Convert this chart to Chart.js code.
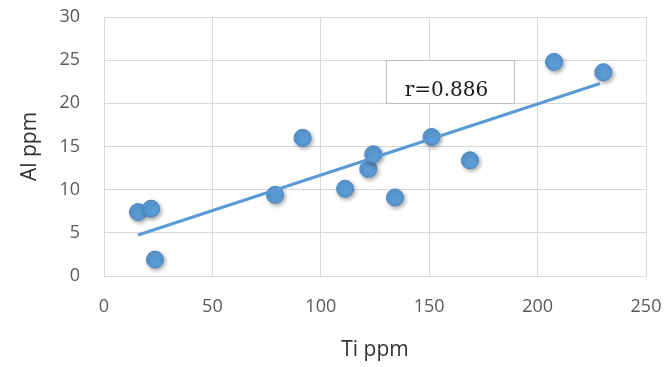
<!DOCTYPE html>
<html><head><meta charset="utf-8">
<script src="https://cdn.jsdelivr.net/npm/chart.js@4.4.1/dist/chart.umd.min.js"></script>
<style>html,body{margin:0;padding:0;background:#fff}#wrap{width:667px;height:367px}</style>
</head><body><div id="wrap"><canvas id="c" width="667" height="367"></canvas></div>
<script>
// ---- data ----
const tiPpm = [15.7, 21.7, 23.5, 78.9, 91.6, 111.2, 121.9, 124.2, 134.2, 151.1, 168.8, 207.6, 230.3];
const alPpm = [7.4, 7.8, 1.9, 9.4, 16.0, 10.1, 12.4, 14.1, 9.1, 16.1, 13.4, 24.8, 23.6];
const trendTi = [15.7, 228.8];
const trendAl = [4.75, 22.3];
const xTicks = [0, 50, 100, 150, 200, 250];
const yTicks = [0, 5, 10, 15, 20, 25, 30];
const xTitle = 'Ti ppm';
const yTitle = 'Al ppm';
const rLabel = 'r=0.886';
const rBoxTi = [130, 189];
const rBoxAl = [20, 25];

const BLUE = '#5B9BD5';
const GRID = '#d9d9d9';

const shadowPlugin = {
  id: 'shadow',
  beforeDatasetDraw(chart, args) {
    const ctx = chart.ctx;
    ctx.save();
    if (args.index === 0) {
      ctx.shadowColor = 'rgba(0,0,0,0.35)';
      ctx.shadowBlur = 4;
      ctx.shadowOffsetX = 1.5;
      ctx.shadowOffsetY = 2;
    }
  },
  afterDatasetDraw(chart) { chart.ctx.restore(); }
};

const rBoxPlugin = {
  id: 'rbox',
  afterDraw(chart) {
    const {ctx, scales: {x, y}} = chart;
    const x0 = Math.round(x.getPixelForValue(rBoxTi[0])) + 0.5;
    const x1 = Math.round(x.getPixelForValue(rBoxTi[1])) + 0.5;
    const y0 = Math.round(y.getPixelForValue(rBoxAl[1])) + 0.5;
    const y1 = Math.round(y.getPixelForValue(rBoxAl[0])) + 0.5;
    ctx.save();
    ctx.fillStyle = '#ffffff';
    ctx.fillRect(x0, y0, x1 - x0, y1 - y0);
    ctx.strokeStyle = '#bfbfbf';
    ctx.lineWidth = 1;
    ctx.strokeRect(x0, y0, x1 - x0, y1 - y0);
    ctx.fillStyle = '#1a1a1a';
    ctx.font = '20px "DejaVu Serif"';
    ctx.textAlign = 'center';
    ctx.textBaseline = 'alphabetic';
    ctx.fillText(rLabel, (x0 + x1) / 2 - 4, y1 - 8);
    ctx.restore();
  }
};

const noPad = s => { s.paddingTop = 0; s.paddingBottom = 0; s.paddingLeft = 0; s.paddingRight = 0; };

new Chart(document.getElementById('c'), {
  type: 'scatter',
  data: {
    datasets: [
      {
        data: tiPpm.map((t, i) => ({x: t, y: alPpm[i]})),
        backgroundColor: BLUE,
        borderColor: '#4a86c4',
        borderWidth: 1,
        pointRadius: 8.5,
        clip: false,
        order: 2
      },
      {
        type: 'line',
        data: trendTi.map((t, i) => ({x: t, y: trendAl[i]})),
        borderColor: BLUE,
        borderWidth: 3,
        pointRadius: 0,
        fill: false,
        order: 1
      }
    ]
  },
  options: {
    responsive: false,
    animation: false,
    layout: {autoPadding: false, padding: {left: 0, right: 21, top: 17, bottom: 0}},
    plugins: {legend: {display: false}, tooltip: {enabled: false}},
    scales: {
      x: {
        type: 'linear', min: 0, max: 250,
        afterBuildTicks: s => { s.ticks = xTicks.map(v => ({value: v})); },
        afterFit: s => { s.height = 91; noPad(s); },
        grid: {color: GRID, drawTicks: false},
        border: {color: GRID},
        ticks: {padding: 20, color: '#595959', font: {family: 'Open Sans', size: 18}},
        title: {display: true, text: xTitle, color: '#333333', font: {family: 'Open Sans', size: 21}, padding: {top: 0, bottom: 4}}
      },
      y: {
        type: 'linear', min: 0, max: 30,
        afterBuildTicks: s => { s.ticks = yTicks.map(v => ({value: v})); },
        afterFit: s => { s.width = 104; noPad(s); },
        grid: {color: GRID, drawTicks: false},
        border: {color: GRID},
        ticks: {padding: 24, color: '#595959', font: {family: 'Open Sans', size: 18}},
        title: {display: true, text: yTitle, color: '#333333', font: {family: 'Open Sans', size: 21}, padding: {top: 17, bottom: 0}}
      }
    }
  },
  plugins: [shadowPlugin, rBoxPlugin]
});
</script></body></html>
